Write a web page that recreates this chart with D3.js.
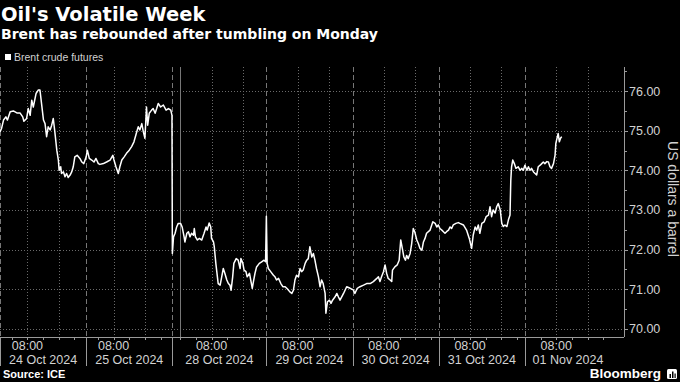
<!DOCTYPE html>
<html><head><meta charset="utf-8">
<script src="https://cdn.jsdelivr.net/npm/d3@7"></script>
<style>
html,body{margin:0;padding:0;background:#000;}
svg{display:block;}
text{font-family:"Liberation Sans",Arial,sans-serif;}
text.heading{font-family:"DejaVu Sans",sans-serif;}
</style>
</head><body>
<svg id="chart" width="680" height="382"></svg>
<script>
// ---------- text ----------
const titleText = "Oil's Volatile Week";
const subtitleText = "Brent has rebounded after tumbling on Monday";
const seriesName = "Brent crude futures";
const yAxisTitle = "US dollars a barrel";
const sourceText = "Source: ICE";
const brandText = "Bloomberg";

// ---------- sessions (gap-removed trading-hours axis) ----------
const dayLabels = ["24 Oct 2024", "25 Oct 2024", "28 Oct 2024", "29 Oct 2024", "30 Oct 2024", "31 Oct 2024", "01 Nov 2024"];
const sessionOpenHour = [1, 1, -2, 0, 0, 0, 0];     // local clock hour at session open
const sessionHours = [22, 22, 24, 22, 22, 22, 22]; // hours in each session
const timeTickHour = 8;
const timeTickLabel = "08:00";
const gridHours = [8, 16];
const minorTickStep = 4;
const xDomainEnd = 159.3;

// ---------- y axis ----------
const yTicks = [70, 71, 72, 73, 74, 75, 76];
const yMinorTicks = [70.5, 71.5, 72.5, 73.5, 74.5, 75.5, 76.5];
const yDomain = [69.79, 76.61];

// ---------- series: trading hours since 24 Oct open, price ----------
const times = [
  0,0.4,0.9,1.5,1.9,2.6,3.4,4.3,5.1,5.8,6.1,6.8,7.2,7.7,8.1,8.5,9.2,9.8,10.2,10.6,11.1,11.5,11.9,12.3,12.8,13.2,13.6,14.0,14.5,14.9,15.1,15.5,15.7,16.2,16.6,17.0,17.4,17.9,18.3,18.7,19.1,19.7,20.4,20.9,21.4,22.0,
  22.3,22.8,23.4,24.0,24.5,25.1,25.5,26.4,27.2,28.1,28.8,29.1,29.6,30.2,30.6,31.1,31.7,32.3,33.0,33.6,34.2,34.9,35.3,35.7,36.2,36.6,37.0,37.4,37.7,38.1,38.7,39.1,39.6,40.0,40.4,41.0,41.7,42.4,43.0,43.6,43.9,
  44.0,44.3,44.7,45.1,45.5,46.1,46.5,47.0,47.2,47.7,48.1,48.5,48.9,49.4,49.6,49.9,50.4,50.9,51.5,52.1,52.6,52.9,53.4,53.8,54.0,54.5,54.7,55.1,55.3,55.7,56.2,56.6,57.0,57.4,57.9,58.3,58.7,59.0,59.4,59.7,60.3,60.8,61.3,61.5,62.0,62.3,62.8,63.1,63.7,64.0,64.4,64.7,65.1,65.5,66.2,66.8,67.4,67.8,
  68.0,68.2,68.5,69.1,69.8,70.2,70.6,71.1,71.7,72.2,72.8,73.4,74.0,74.5,74.9,75.3,75.7,76.2,76.6,77.0,77.4,77.9,78.3,78.7,79.1,79.6,80.0,80.4,80.8,81.3,81.7,82.1,82.5,83.0,83.2,83.6,84.1,84.5,84.9,85.5,86.0,86.4,86.8,87.7,88.5,89.4,
  90.2,90.6,91.2,91.9,92.8,93.6,94.5,95.3,96.2,96.6,97.0,97.4,97.9,98.3,98.7,99.1,99.6,100.0,100.2,100.8,101.4,101.9,102.3,102.8,103.1,103.5,103.8,104.2,104.7,105.1,105.5,105.9,106.4,106.8,107.2,107.7,108.1,108.5,108.9,109.8,110.5,111.1,111.5,111.9,
  112.3,112.8,113.2,113.6,114.0,114.5,114.9,115.3,115.7,116.4,117.0,117.4,118.3,119.1,119.8,120.4,120.8,121.3,121.7,122.1,122.5,123.0,123.6,124.1,124.7,125.1,125.5,125.9,126.4,126.8,127.2,127.7,128.1,128.5,128.9,129.4,129.8,130.2,130.4,130.6,130.9,131.3,131.7,132.3,132.8,133.2,133.6,
  134.0,134.5,134.9,135.3,135.7,136.2,136.6,137.0,137.4,137.9,138.3,138.7,139.1,139.6,140.0,140.4,140.8,141.3,141.7,141.9,142.3,142.5,142.8,143.1,143.4
];
const prices = [
  74.97,75.06,75.27,75.35,75.27,75.48,75.50,75.45,75.45,75.35,75.24,75.31,75.56,75.39,75.77,75.60,75.94,76.03,76.03,75.69,75.27,75.18,74.85,75.10,75.02,75.14,75.31,74.97,74.51,74.26,74.00,74.09,73.92,73.96,73.84,73.92,73.82,73.88,73.96,74.09,74.34,74.38,74.30,74.21,74.17,74.34,
  74.51,74.30,74.26,74.21,74.30,74.17,74.15,74.17,74.21,74.26,74.38,74.26,74.09,73.92,74.09,74.26,74.34,74.43,74.51,74.60,74.72,74.97,75.10,75.02,75.18,74.97,74.81,75.60,75.14,75.44,75.52,75.56,75.44,75.56,75.69,75.60,75.65,75.52,75.56,75.52,75.39,
  71.90,72.32,72.41,72.57,72.66,72.66,72.57,72.32,72.19,72.41,72.45,72.32,72.41,72.36,72.53,72.32,72.24,72.28,72.24,72.41,72.57,72.49,72.67,72.57,72.28,72.19,72.07,71.65,71.48,71.14,71.10,71.31,71.52,71.40,71.23,71.14,71.10,70.97,71.31,71.65,71.77,71.73,71.52,71.77,71.65,71.48,71.44,71.31,71.40,71.23,71.02,71.19,71.40,71.56,71.65,71.69,71.73,71.69,
  72.84,71.65,71.52,71.44,71.35,71.31,71.23,71.27,71.14,71.06,71.06,71.00,70.93,70.89,70.97,71.23,71.35,71.31,71.52,71.44,71.48,71.65,71.73,71.77,72.07,71.81,71.90,71.73,71.52,71.31,71.06,71.23,71.14,70.89,70.39,70.68,70.72,70.64,70.72,70.80,70.89,70.80,70.72,70.89,71.06,71.02,
  70.98,70.89,71.02,71.06,71.10,71.14,71.14,71.19,71.27,71.31,71.19,71.31,71.44,71.61,71.40,71.27,71.23,71.19,71.48,71.56,71.61,71.73,72.24,71.98,71.81,71.73,71.85,71.77,71.90,72.15,72.53,72.44,72.24,72.15,72.03,71.98,72.19,72.28,72.41,72.49,72.70,72.66,72.57,72.62,
  72.53,72.49,72.45,72.41,72.45,72.49,72.57,72.53,72.62,72.66,72.68,72.66,72.62,72.49,72.28,72.03,72.36,72.57,72.49,72.62,72.41,72.66,72.70,72.83,72.87,73.08,72.83,73.00,72.92,73.08,73.16,73.00,72.66,72.58,72.62,72.58,72.75,72.87,73.75,74.09,74.26,74.17,74.05,74.09,74.00,74.05,74.00,
  74.13,74.00,74.09,74.00,74.05,73.96,73.92,73.88,74.09,74.13,74.17,74.21,74.17,74.22,74.21,74.09,74.05,74.17,74.38,74.68,74.85,74.93,74.72,74.81,74.85
];

// ---------- layout ----------
const W = 680, H = 382;
const plot = {left: 0, right: 624, top: 67, bottom: 337};
const svg = d3.select("#chart");
svg.append("rect").attr("width", W).attr("height", H).attr("fill", "#000");

const x = d3.scaleLinear().domain([0, xDomainEnd]).range([plot.left, plot.right]);
const y = d3.scaleLinear().domain(yDomain).range([plot.bottom, plot.top]);

const sessionStarts = sessionHours.map((h, i) => d3.sum(sessionHours.slice(0, i)));
const tOf = (i, hour) => sessionStarts[i] + (hour - sessionOpenHour[i]);

// horizontal gridlines
svg.append("g").selectAll("line").data(yTicks).join("line")
  .attr("x1", plot.left).attr("x2", plot.right)
  .attr("y1", d => Math.round(y(d)) + 0.5).attr("y2", d => Math.round(y(d)) + 0.5)
  .attr("stroke", "#6a6a6a").attr("stroke-width", 1).attr("stroke-dasharray", "1,2");

// vertical gridlines at 08:00 / 16:00 (dotted)
const gridT = [];
sessionHours.forEach((len, i) => gridHours.forEach(h => {
  const t = tOf(i, h);
  if (t < sessionStarts[i] + len && t <= xDomainEnd) gridT.push(t);
}));
svg.append("g").selectAll("line").data(gridT).join("line")
  .attr("x1", d => Math.round(x(d)) + 0.5).attr("x2", d => Math.round(x(d)) + 0.5)
  .attr("y1", plot.top).attr("y2", plot.bottom)
  .attr("stroke", "#6a6a6a").attr("stroke-dasharray", "1,2");

// session boundaries (dashed)
svg.append("g").selectAll("line").data(sessionStarts).join("line")
  .attr("x1", d => Math.round(x(d)) + 0.5).attr("x2", d => Math.round(x(d)) + 0.5)
  .attr("y1", plot.top).attr("y2", plot.bottom)
  .attr("stroke", "#777").attr("stroke-dasharray", "5,3");

// midnight inside a session that opens the evening before (solid)
const midnightT = sessionOpenHour.map((o, i) => o < 0 ? tOf(i, 0) : null).filter(d => d !== null);
svg.append("g").selectAll("line").data(midnightT).join("line")
  .attr("x1", d => Math.round(x(d)) + 0.5).attr("x2", d => Math.round(x(d)) + 0.5)
  .attr("y1", plot.top).attr("y2", plot.bottom)
  .attr("stroke", "#777");

// series line
const pts = times.map((t, i) => [t, prices[i]]);
svg.append("path").datum(pts)
  .attr("fill", "none").attr("stroke", "#fff").attr("stroke-width", 1.5)
  .attr("stroke-linejoin", "round")
  .attr("d", d3.line().x(d => x(d[0])).y(d => y(d[1])));

// x axis line
const axisColor = "#9a9a9a";
svg.append("line").attr("x1", plot.left).attr("x2", plot.right)
  .attr("y1", plot.bottom + 0.5).attr("y2", plot.bottom + 0.5).attr("stroke", axisColor);

// minor ticks every 4h
const minorT = [];
sessionHours.forEach((len, i) => {
  for (let h = Math.ceil(sessionOpenHour[i] / minorTickStep) * minorTickStep; h < sessionOpenHour[i] + len; h += minorTickStep) {
    if (h > sessionOpenHour[i]) minorT.push(tOf(i, h));
  }
});
svg.append("g").selectAll("line").data(minorT.filter(t => t <= xDomainEnd)).join("line")
  .attr("x1", d => Math.round(x(d)) + 0.5).attr("x2", d => Math.round(x(d)) + 0.5)
  .attr("y1", plot.bottom).attr("y2", plot.bottom + 3).attr("stroke", axisColor);

// session dividers below axis
svg.append("g").selectAll("line").data(sessionStarts).join("line")
  .attr("x1", d => Math.round(x(d)) + 0.5).attr("x2", d => Math.round(x(d)) + 0.5)
  .attr("y1", plot.bottom).attr("y2", plot.bottom + 29).attr("stroke", axisColor);

// x labels
const labelColor = "#d2d2d2";
svg.append("g").selectAll("text").data(sessionHours.map((len, i) => tOf(i, timeTickHour))).join("text")
  .attr("x", d => x(d)).attr("y", 350).attr("text-anchor", "middle")
  .attr("font-size", 12.5).attr("fill", labelColor).text(timeTickLabel);
svg.append("g").selectAll("text").data(dayLabels).join("text")
  .attr("x", (d, i) => x(sessionStarts[i] + sessionHours[i] / 2)).attr("y", 363.5).attr("text-anchor", "middle")
  .attr("font-size", 12.5).attr("fill", labelColor).text(d => d);

// y axis
svg.append("line").attr("x1", plot.right + 0.5).attr("x2", plot.right + 0.5)
  .attr("y1", plot.top).attr("y2", plot.bottom).attr("stroke", axisColor);
svg.append("g").selectAll("line").data(yTicks).join("line")
  .attr("x1", plot.right).attr("x2", plot.right + 4)
  .attr("y1", d => Math.round(y(d)) + 0.5).attr("y2", d => Math.round(y(d)) + 0.5).attr("stroke", axisColor);
svg.append("g").selectAll("line").data(yMinorTicks.filter(v => v < yDomain[1])).join("line")
  .attr("x1", plot.right).attr("x2", plot.right + 3)
  .attr("y1", d => Math.round(y(d)) + 0.5).attr("y2", d => Math.round(y(d)) + 0.5).attr("stroke", axisColor);
svg.append("g").selectAll("text").data(yTicks).join("text")
  .attr("x", plot.right + 5).attr("y", d => y(d) + 4.5)
  .attr("font-size", 12.5).attr("fill", labelColor).text(d => d3.format(".2f")(d));
svg.append("text")
  .attr("transform", `translate(668,${(plot.top + plot.bottom) / 2 - 3}) rotate(90)`)
  .attr("text-anchor", "middle").attr("font-size", 14).attr("fill", labelColor).text(yAxisTitle);

// titles
svg.append("text").attr("class", "heading").attr("x", 1).attr("y", 21).attr("font-size", 19.5).attr("font-weight", "bold")
  .attr("fill", "#fff").text(titleText);
svg.append("text").attr("class", "heading").attr("x", 1).attr("y", 39).attr("font-size", 14).attr("font-weight", "bold")
  .attr("fill", "#fff").text(subtitleText);

// legend
svg.append("rect").attr("x", 5).attr("y", 54).attr("width", 6).attr("height", 6).attr("fill", "#fff");
svg.append("text").attr("x", 14).attr("y", 60.5).attr("font-size", 10.5).attr("fill", labelColor).text(seriesName);

// footer
svg.append("text").attr("x", 3).attr("y", 378).attr("font-size", 11).attr("font-weight", "bold")
  .attr("fill", "#fff").text(sourceText);
svg.append("text").attr("x", 661).attr("y", 378).attr("text-anchor", "end").attr("font-size", 13.5)
  .attr("font-weight", "bold").attr("fill", "#fff").text(brandText);
const logo = svg.append("g").attr("transform", "translate(667,369)");
logo.append("rect").attr("width", 10).attr("height", 10).attr("rx", 1.5).attr("fill", "#fff");
[[2.5,5,1.5,4],[5,2.5,1.5,6.5],[7.5,4.5,1.2,4.5]].forEach(b => logo.append("rect")
  .attr("x", b[0]).attr("y", b[1]).attr("width", b[2]).attr("height", b[3]).attr("fill", "#000"));
</script>
</body></html>
